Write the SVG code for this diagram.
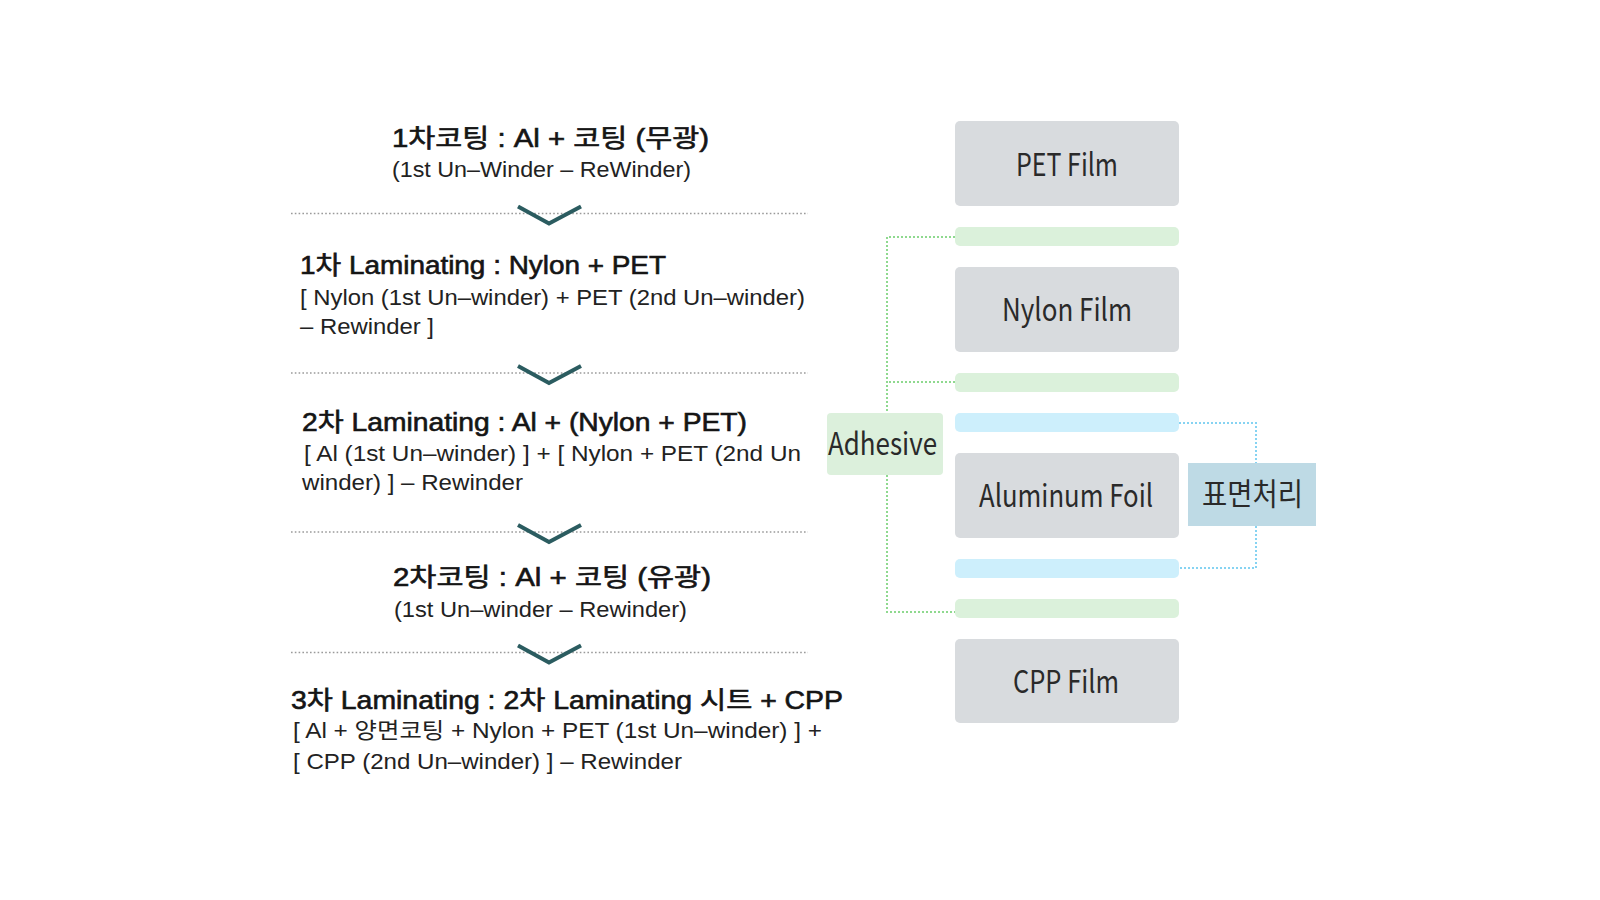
<svg xmlns="http://www.w3.org/2000/svg" width="1600" height="900" viewBox="0 0 1600 900">
<style>
.t{font-family:"Liberation Sans","Noto Sans CJK KR",sans-serif;font-size:25px;fill:#151515;stroke:#151515;stroke-width:0.6}
.s{font-family:"Liberation Sans","Noto Sans CJK KR",sans-serif;font-size:22px;fill:#222}
.sep{stroke:#9a9a9a;stroke-width:1.6;stroke-dasharray:1.6 2.2;fill:none}
.chev{stroke:#2b5c60;stroke-width:4;fill:none;stroke-linejoin:miter}
.film{fill:#d8dbde}
.lbl{font-family:"Noto Sans CJK KR","Liberation Sans",sans-serif;font-size:31px;fill:#2a2a2a}
.gbar{fill:#dbf1db}
.bbar{fill:#cdeffc}
.gdot{stroke:#8fd98f;stroke-width:2;stroke-dasharray:2 2;fill:none}
.bdot{stroke:#86d3f2;stroke-width:2;stroke-dasharray:2 2;fill:none}
</style>
<rect width="1600" height="900" fill="#fff"/>
<g id="connectors">
<path class="sep" d="M291,213.5 H808"/>
<path class="sep" d="M291,373 H808"/>
<path class="sep" d="M291,532 H808"/>
<path class="sep" d="M291,652.5 H808"/>
<polyline class="chev" points="518,206.5 549,223.5 581,206.5"/>
<polyline class="chev" points="518,366 549,383 581,366"/>
<polyline class="chev" points="518,525 549,542 581,525"/>
<polyline class="chev" points="518,645.5 549,662.5 581,645.5"/>
<path class="gdot" d="M955,237 H887 V413"/>
<path class="gdot" d="M955,382 H887"/>
<path class="gdot" d="M887,475 V612 H955"/>
<path class="bdot" d="M1179,423 H1256 V463"/>
<path class="bdot" d="M1256,526 V568 H1179"/>
</g>
<g id="step1">
<text class="t" x="392" y="146.5" textLength="317" lengthAdjust="spacingAndGlyphs">1차코팅 : Al + 코팅 (무광)</text>
<text class="s" x="392" y="177" textLength="299" lengthAdjust="spacingAndGlyphs">(1st Un–Winder – ReWinder)</text>
</g>
<g id="step2">
<text class="t" x="300" y="274" textLength="366" lengthAdjust="spacingAndGlyphs">1차 Laminating : Nylon + PET</text>
<text class="s" x="300" y="304.5" textLength="505" lengthAdjust="spacingAndGlyphs">[ Nylon (1st Un–winder) + PET (2nd Un–winder)</text>
<text class="s" x="300" y="334" textLength="134" lengthAdjust="spacingAndGlyphs">– Rewinder ]</text>
</g>
<g id="step3">
<text class="t" x="302" y="431" textLength="445" lengthAdjust="spacingAndGlyphs">2차 Laminating : Al + (Nylon + PET)</text>
<text class="s" x="304" y="460.5" textLength="497" lengthAdjust="spacingAndGlyphs">[ Al (1st Un–winder) ] + [ Nylon + PET (2nd Un</text>
<text class="s" x="302" y="490" textLength="221" lengthAdjust="spacingAndGlyphs">winder) ] – Rewinder</text>
</g>
<g id="step4">
<text class="t" x="393" y="586" textLength="318" lengthAdjust="spacingAndGlyphs">2차코팅 : Al + 코팅 (유광)</text>
<text class="s" x="394" y="616.5" textLength="293" lengthAdjust="spacingAndGlyphs">(1st Un–winder – Rewinder)</text>
</g>
<g id="step5">
<text class="t" x="291" y="708.5" textLength="552" lengthAdjust="spacingAndGlyphs">3차 Laminating : 2차 Laminating 시트 + CPP</text>
<text class="s" x="293" y="738" textLength="529" lengthAdjust="spacingAndGlyphs">[ Al + 양면코팅 + Nylon + PET (1st Un–winder) ] +</text>
<text class="s" x="293" y="768.5" textLength="389" lengthAdjust="spacingAndGlyphs">[ CPP (2nd Un–winder) ] – Rewinder</text>
</g>
<g id="pet-film">
<rect class="film" x="955" y="121" width="224" height="85" rx="5"/>
<text class="lbl" x="1016" y="176" textLength="102" lengthAdjust="spacingAndGlyphs">PET Film</text>
</g>
<g id="adhesive-layer-1"><rect class="gbar" x="955" y="227" width="224" height="19" rx="5"/></g>
<g id="nylon-film">
<rect class="film" x="955" y="267" width="224" height="85" rx="5"/>
<text class="lbl" x="1002" y="320.5" textLength="130" lengthAdjust="spacingAndGlyphs">Nylon Film</text>
</g>
<g id="adhesive-layer-2"><rect class="gbar" x="955" y="373" width="224" height="19" rx="5"/></g>
<g id="treat-layer-1"><rect class="bbar" x="955" y="413" width="224" height="19" rx="5"/></g>
<g id="aluminum-foil">
<rect class="film" x="955" y="453" width="224" height="85" rx="5"/>
<text class="lbl" x="979" y="506.5" textLength="174" lengthAdjust="spacingAndGlyphs">Aluminum Foil</text>
</g>
<g id="treat-layer-2"><rect class="bbar" x="955" y="559" width="224" height="19" rx="5"/></g>
<g id="adhesive-layer-3"><rect class="gbar" x="955" y="599" width="224" height="19" rx="5"/></g>
<g id="cpp-film">
<rect class="film" x="955" y="639" width="224" height="84" rx="5"/>
<text class="lbl" x="1013" y="692.5" textLength="106" lengthAdjust="spacingAndGlyphs">CPP Film</text>
</g>
<g id="adhesive">
<rect x="827" y="413" width="116" height="62" rx="4" fill="#dcf0dc"/>
<text class="lbl" x="828" y="455" font-size="30" textLength="109" lengthAdjust="spacingAndGlyphs">Adhesive</text>
</g>
<g id="surface-treatment">
<rect x="1188" y="463" width="128" height="63" fill="#bedae5"/>
<text class="lbl" x="1202" y="505" font-size="26" textLength="101" lengthAdjust="spacingAndGlyphs">표면처리</text>
</g>
</svg>
